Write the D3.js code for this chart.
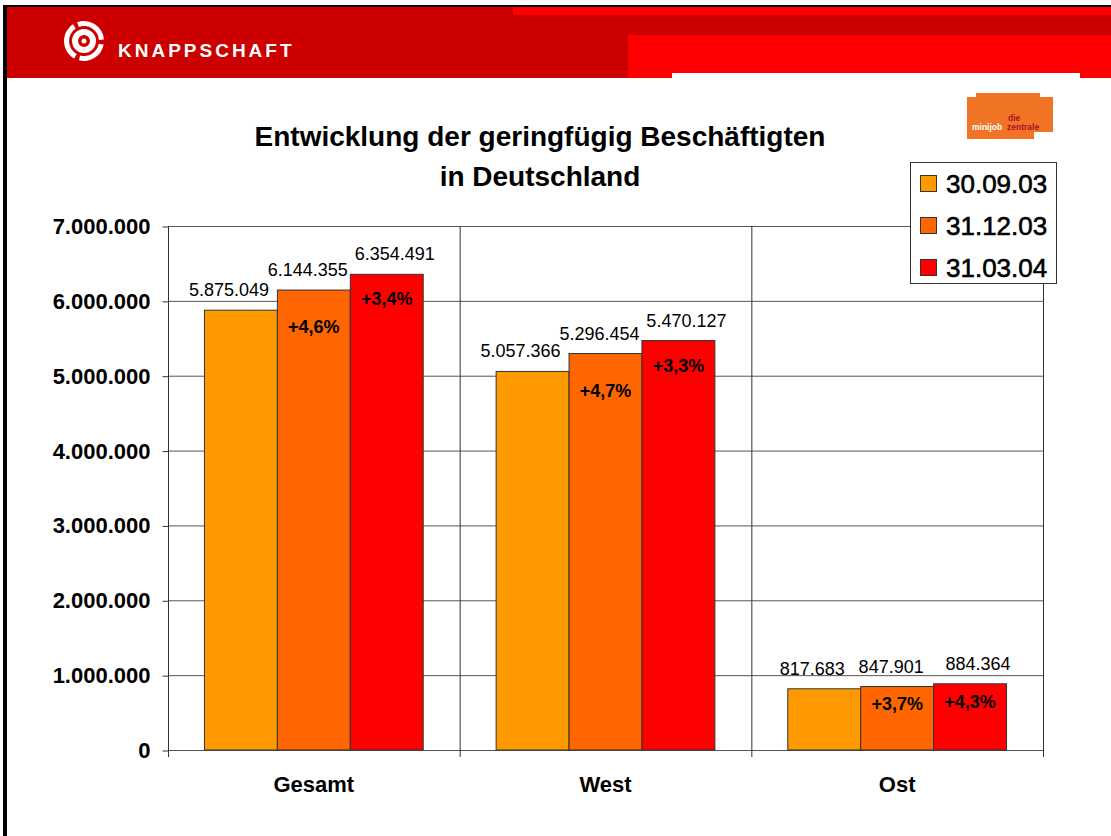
<!DOCTYPE html>
<html>
<head>
<meta charset="utf-8">
<script src="https://cdn.jsdelivr.net/npm/d3@7"></script>
<style>
  body { margin: 0; background: #fff; }
  svg { display: block; font-family: "Liberation Sans", Arial, sans-serif; }
</style>
</head>
<body>
<svg id="chart" width="1111" height="836"></svg>
<script>
// chart data
const categories = ["Gesamt", "West", "Ost"];
const seriesNames = ["30.09.03", "31.12.03", "31.03.04"];
const gesamtValues = [5875049, 6144355, 6354491];
const westValues = [5057366, 5296454, 5470127];
const ostValues = [817683, 847901, 884364];
const gesamtChange = ["", "+4,6%", "+3,4%"];
const westChange = ["", "+4,7%", "+3,3%"];
const ostChange = ["", "+3,7%", "+4,3%"];
const yTicks = [0, 1000000, 2000000, 3000000, 4000000, 5000000, 6000000, 7000000];

const seriesColors = ["#FF9900", "#FF6600", "#FF0000"];
const valuesByCat = [gesamtValues, westValues, ostValues];
const changeByCat = [gesamtChange, westChange, ostChange];
// label nudges per series so neighbouring value labels do not collide
const labelDx = [-12, -6, 8];

const de = d3.formatLocale({decimal: ",", thousands: ".", grouping: [3], currency: ["", " €"]});
const fmt = de.format(",d");

const svg = d3.select("#chart");

// ---- slide frame + header
svg.append("rect").attr("x", 0).attr("y", 0).attr("width", 1111).attr("height", 836).attr("fill", "#fff");
svg.append("rect").attr("x", 3).attr("y", 5).attr("width", 1108).attr("height", 2).attr("fill", "#000");
svg.append("rect").attr("x", 3).attr("y", 5).attr("width", 4).attr("height", 831).attr("fill", "#000");
svg.append("rect").attr("x", 7).attr("y", 7).attr("width", 1104).attr("height", 71).attr("fill", "#CC0000");
svg.append("rect").attr("x", 513).attr("y", 7).attr("width", 598).attr("height", 8).attr("fill", "#FF0000");
svg.append("rect").attr("x", 628).attr("y", 35).attr("width", 483).attr("height", 43).attr("fill", "#FF0000");
svg.append("rect").attr("x", 672).attr("y", 73).attr("width", 408).attr("height", 6).attr("fill", "#fff");

// knappschaft logo
const logo = svg.append("g").attr("transform", "translate(84,41)");
logo.append("circle").attr("r", 9).attr("fill", "none").attr("stroke", "#fff").attr("stroke-width", 6);
logo.append("circle").attr("r", 2.5).attr("fill", "#fff");
const ringArc = d3.arc().innerRadius(15).outerRadius(20);
[[-0.35, 1.5], [1.75, 3.4], [3.65, 5.7]].forEach(([a0, a1]) => {
  logo.append("path").attr("d", ringArc({startAngle: a0, endAngle: a1})).attr("fill", "#fff");
});
svg.append("text").attr("x", 118).attr("y", 57).attr("fill", "#fff")
  .attr("font-size", 19).attr("font-weight", "bold").attr("letter-spacing", 3.0)
  .text("KNAPPSCHAFT");

// minijob zentrale logo
svg.append("path")
  .attr("d", "M967,97 L976,97 L976,93 L1040,93 L1040,97 L1053,97 L1053,132 L1034,132 L1034,139 L967,139 Z")
  .attr("fill", "#F07424");
svg.append("text").attr("x", 972).attr("y", 130).attr("fill", "#fff")
  .attr("font-size", 8.5).attr("font-weight", "bold").text("minijob");
svg.append("text").attr("x", 1008).attr("y", 121).attr("fill", "#B0102A")
  .attr("font-size", 8.5).attr("font-weight", "bold").text("die");
svg.append("text").attr("x", 1007).attr("y", 130).attr("fill", "#B0102A")
  .attr("font-size", 8.5).attr("font-weight", "bold").text("zentrale");

// ---- title
svg.append("text").attr("x", 540).attr("y", 146).attr("text-anchor", "middle")
  .attr("font-size", 28).attr("font-weight", "bold").text("Entwicklung der geringfügig Beschäftigten");
svg.append("text").attr("x", 540).attr("y", 186).attr("text-anchor", "middle")
  .attr("font-size", 28).attr("font-weight", "bold").text("in Deutschland");

// ---- plot
const plotL = 168, plotR = 1043, plotT = 226, plotB = 750;
const x0 = d3.scaleBand().domain(categories).range([plotL, plotR]).padding(0);
const x1 = d3.scaleBand().domain(seriesNames).range([0, x0.bandwidth()]).paddingInner(0).paddingOuter(0.5);
const y = d3.scaleLinear().domain([0, 7000000]).range([plotB, plotT]);

// gridlines
svg.append("g").selectAll("line").data(yTicks).join("line")
  .attr("x1", plotL).attr("x2", plotR)
  .attr("y1", d => y(d) + 0.5).attr("y2", d => y(d) + 0.5)
  .attr("stroke", "#555").attr("stroke-width", 1);

// category separators + frame sides
const sep = categories.map(c => x0(c)).concat([plotR]);
svg.append("g").selectAll("line").data(sep).join("line")
  .attr("x1", d => d + 0.5).attr("x2", d => d + 0.5)
  .attr("y1", plotT).attr("y2", plotB + 7)
  .attr("stroke", "#333").attr("stroke-width", 1);

// y axis
const yAxis = d3.axisLeft(y).tickValues(yTicks).tickSize(6).tickPadding(12).tickFormat(d => fmt(d));
const ya = svg.append("g").attr("transform", `translate(${plotL + 0.5},0.5)`).call(yAxis);
ya.select(".domain").remove();
ya.selectAll(".tick line").attr("stroke", "#333");
ya.selectAll("text").attr("font-size", 22).attr("font-weight", "bold").attr("fill", "#000")
  .attr("font-family", "Liberation Sans, Arial, sans-serif");

// bars
const groups = svg.append("g").selectAll("g").data(categories).join("g")
  .attr("transform", c => `translate(${x0(c)},0)`);

groups.each(function(c, ci) {
  const g = d3.select(this);
  const vals = valuesByCat[ci];
  const chg = changeByCat[ci];
  seriesNames.forEach((s, si) => {
    const v = vals[si];
    const bx = x1(s), bw = x1.bandwidth();
    const ty = y(v), h = plotB - ty;
    g.append("rect").attr("x", bx).attr("y", ty).attr("width", bw).attr("height", h)
      .attr("fill", seriesColors[si]).attr("stroke", "#333").attr("stroke-width", 1);
    g.append("text").attr("x", bx + bw / 2 + labelDx[si]).attr("y", ty - 14).attr("text-anchor", "middle")
      .attr("font-size", 18).attr("fill", "#000").text(fmt(v));
    if (chg[si]) {
      const off = Math.min(si === 1 ? 43 : 31, h * 0.37);
      g.append("text").attr("x", bx + bw / 2).attr("y", ty + off).attr("text-anchor", "middle")
        .attr("font-size", 18).attr("font-weight", "bold").attr("fill", "#000").text(chg[si]);
    }
  });
});

// category labels
svg.append("g").selectAll("text").data(categories).join("text")
  .attr("x", c => x0(c) + x0.bandwidth() / 2).attr("y", 792)
  .attr("text-anchor", "middle").attr("font-size", 22).attr("font-weight", "bold")
  .text(c => c);

// legend
const lg = svg.append("g").attr("transform", "translate(910,162)");
lg.append("rect").attr("x", 0.5).attr("y", 0.5).attr("width", 146).attr("height", 121)
  .attr("fill", "#fff").attr("stroke", "#333");
seriesNames.forEach((s, i) => {
  const cy = 22 + i * 42;
  lg.append("rect").attr("x", 10.5).attr("y", cy - 8.5).attr("width", 16).attr("height", 16)
    .attr("fill", seriesColors[i]).attr("stroke", "#333");
  lg.append("text").attr("x", 36).attr("y", cy + 9).attr("font-size", 26).attr("fill", "#000")
    .attr("stroke", "#000").attr("stroke-width", 0.6).text(s);
});
</script>
</body>
</html>
